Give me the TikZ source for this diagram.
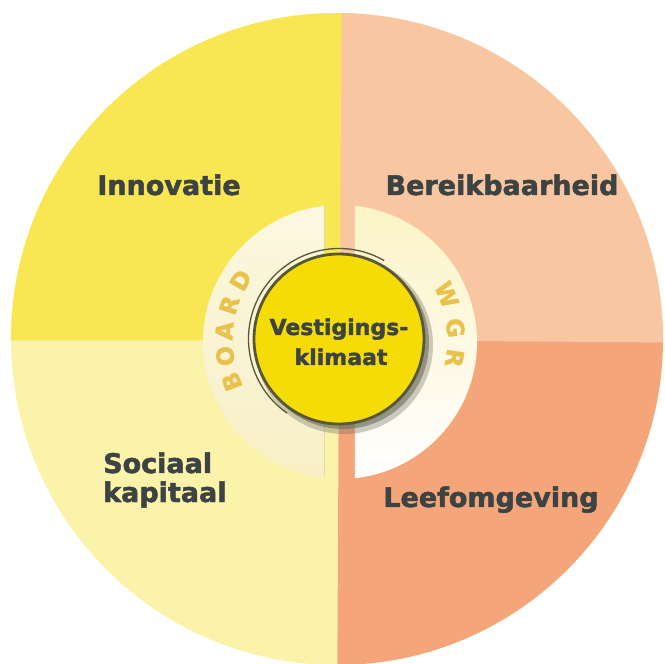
\documentclass[tikz,border=0pt]{standalone}
\usepackage{fontspec}
\setmainfont{DejaVu Sans}[BoldFeatures={FakeBold=1.8}]
\definecolor{qTL}{HTML}{F8E752}
\definecolor{qTR}{HTML}{F8C7A2}
\definecolor{qBL}{HTML}{FBF3A9}
\definecolor{qBR}{HTML}{F4A67A}
\definecolor{labelgrey}{HTML}{3D4343}
\definecolor{ringgold}{HTML}{E8C24C}
\definecolor{ringLtop}{HTML}{FCF8E0}
\definecolor{ringLbot}{HTML}{F8EFC6}
\definecolor{ringRtop}{HTML}{FCF3C6}
\definecolor{ringRmid}{HTML}{FEFAE6}
\definecolor{discyellow}{HTML}{F6DC06}
\definecolor{discline}{HTML}{585838}
\definecolor{shadowgrey}{HTML}{6E6E60}
\definecolor{ringedge}{HTML}{E2D8B4}
\begin{document}
\begin{tikzpicture}[x=1pt,y=1pt,
  lbl/.style={font=\bfseries\fontsize{27}{29}\selectfont, text=labelgrey, inner sep=0pt},
  disctext/.style={font=\bfseries\fontsize{22}{24}\selectfont, text=labelgrey, inner sep=0pt},
  ringletter/.style={font=\bfseries\fontsize{23.5}{24}\selectfont, text=ringgold, inner sep=0pt}]
\useasboundingbox (-340,-324) rectangle (325,340);
\fill[white] (-340,-324) rectangle (325,340);
% quadrants
\begin{scope}
  \clip (-3,1) circle (326);
  \fill[qBL] (-3,1) circle (330);
  \fill[qTL] (-400,-0.5) -- (1,-0.5) -- (3,400) -- (-400,400) -- cycle;
  \fill[qBR] (-1,1) -- (400,-2) -- (400,-400) -- (-3,-400) -- cycle;
  \fill[qTR] (0,0) -- (400,-3) -- (400,400) -- (2,400) -- cycle;
\end{scope}
% rings
\begin{scope}
  \clip (-200,-200) rectangle (-15,200);
  \shade[top color=ringLtop, bottom color=ringLbot] (0,-2) circle (137);
\end{scope}
\draw[ringedge, line width=0.8pt] (-15.4,134) -- (-15.4,-137);
\begin{scope}
  \clip (15,-200) rectangle (200,200);
  \shade[top color=ringRtop, middle color=ringRmid, bottom color=white] (0,-2) circle (137);
\end{scope}
% ring letters
\foreach \ch/\ang in {B/201,O/188,A/175.5,R/162.5,D/149}{
  \node[ringletter, rotate=\ang-90] (b\ch) at (\ang:116) {\ch};
}
\foreach \ch/\ang in {W/23,G/6,R/-9}{
  \node[ringletter, rotate=\ang-90] (w\ch) at (\ang:116) {\ch};
}
% disc shadow
\fill[shadowgrey, opacity=.35] (4,-5) circle (89);
\fill[shadowgrey, opacity=.6] (3,-3) circle (86);
% disc
\node[circle, fill=discyellow, draw=discline, line width=2.8pt, minimum size=170pt, inner sep=0pt] (disc) at (-1,1) {};
\draw[discline, line width=1.3pt] (-1,1) ++(60:90.5) arc (60:235:90.5);
\node[disctext, anchor=base] (v1) at (-1,5) {Vestigings-};
\node[disctext, anchor=base] (v2) at (1,-25) {klimaat};
% labels
\node[lbl, anchor=base] (innov) at (-171,145) {Innovatie};
\node[lbl, anchor=base] (bereik) at (162,145) {Bereikbaarheid};
\node[lbl, anchor=base west] (soc1) at (-237,-133) {Sociaal};
\node[lbl, anchor=base west] (soc2) at (-237,-162) {kapitaal};
\node[lbl, anchor=base] (leef) at (151,-167) {Leefomgeving};
\end{tikzpicture}
\end{document}
